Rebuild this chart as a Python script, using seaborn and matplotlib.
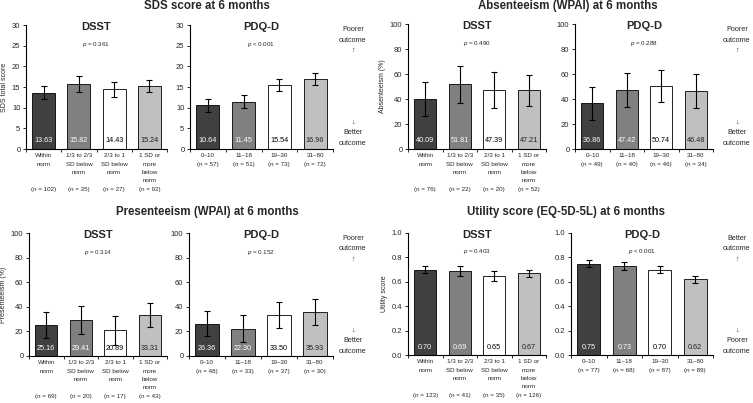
import matplotlib
matplotlib.use("Agg")
import matplotlib.pyplot as plt
import seaborn as sns
import pandas as pd
from matplotlib.ticker import FixedLocator, FormatStrFormatter

# ---------------- data ----------------
dsst_labels_sds = ["Within\nnorm\n\n\n(n = 102)", "1/3 to 2/3\nSD below\nnorm\n\n(n = 35)",
                   "2/3 to 1\nSD below\nnorm\n\n(n = 27)", "1 SD or\nmore\nbelow\nnorm\n(n = 92)"]
pdq_labels_sds = ["0\u201310\n(n = 57)", "11\u201318\n(n = 51)", "19\u201330\n(n = 73)", "31\u201380\n(n = 72)"]
sds_dsst_mean = [13.63, 15.82, 14.43, 15.24]
sds_dsst_lo = [12.0, 13.9, 12.5, 13.7]
sds_dsst_hi = [15.2, 17.7, 16.3, 16.7]
sds_pdq_mean = [10.64, 11.45, 15.54, 16.96]
sds_pdq_lo = [9.0, 9.8, 14.0, 15.5]
sds_pdq_hi = [12.2, 13.1, 17.0, 18.4]

dsst_labels_abs = ["Within\nnorm\n\n\n(n = 76)", "1/3 to 2/3\nSD below\nnorm\n\n(n = 22)",
                   "2/3 to 1\nSD below\nnorm\n\n(n = 20)", "1 SD or\nmore\nbelow\nnorm\n(n = 52)"]
pdq_labels_abs = ["0\u201310\n(n = 49)", "11\u201318\n(n = 40)", "19\u201330\n(n = 46)", "31\u201380\n(n = 34)"]
abs_dsst_mean = [40.09, 51.81, 47.39, 47.21]
abs_dsst_lo = [26.5, 37.0, 33.0, 34.5]
abs_dsst_hi = [53.5, 66.5, 61.5, 59.5]
abs_pdq_mean = [36.86, 47.42, 50.74, 46.48]
abs_pdq_lo = [23.5, 33.5, 38.0, 33.0]
abs_pdq_hi = [50.0, 61.0, 63.5, 60.0]

dsst_labels_pre = ["Within\nnorm\n\n\n(n = 69)", "1/3 to 2/3\nSD below\nnorm\n\n(n = 20)",
                   "2/3 to 1\nSD below\nnorm\n\n(n = 17)", "1 SD or\nmore\nbelow\nnorm\n(n = 43)"]
pdq_labels_pre = ["0\u201310\n(n = 48)", "11\u201318\n(n = 33)", "19\u201330\n(n = 37)", "31\u201380\n(n = 30)"]
pre_dsst_mean = [25.16, 29.41, 20.89, 33.31]
pre_dsst_lo = [14.5, 17.5, 9.0, 23.5]
pre_dsst_hi = [35.5, 41.0, 32.5, 43.0]
pre_pdq_mean = [26.36, 22.30, 33.50, 35.93]
pre_pdq_lo = [16.0, 11.5, 23.0, 25.0]
pre_pdq_hi = [36.5, 33.0, 43.5, 46.5]

dsst_labels_uti = ["Within\nnorm\n\n\n(n = 123)", "1/3 to 2/3\nSD below\nnorm\n\n(n = 41)",
                   "2/3 to 1\nSD below\nnorm\n\n(n = 35)", "1 SD or\nmore\nbelow\nnorm\n(n = 126)"]
pdq_labels_uti = ["0\u201310\n(n = 77)", "11\u201318\n(n = 68)", "19\u201330\n(n = 87)", "31\u201380\n(n = 89)"]
uti_dsst_mean = [0.70, 0.69, 0.65, 0.67]
uti_dsst_lo = [0.67, 0.65, 0.61, 0.64]
uti_dsst_hi = [0.73, 0.73, 0.69, 0.70]
uti_pdq_mean = [0.75, 0.73, 0.70, 0.62]
uti_pdq_lo = [0.72, 0.70, 0.67, 0.59]
uti_pdq_hi = [0.78, 0.76, 0.73, 0.65]

panel_titles = ["SDS score at 6 months", "Absenteeism (WPAI) at 6 months",
                "Presenteeism (WPAI) at 6 months", "Utility score (EQ-5D-5L) at 6 months"]
ylabels = ["SDS total score", "Absenteeism (%)", "Presenteeism (%)", "Utility score"]
pvals_dsst = ["= 0.361", "= 0.490", "= 0.314", "= 0.403"]
pvals_pdq = ["< 0.001", "= 0.288", "= 0.152", "< 0.001"]

bar_colors = ["#404040", "#808080", "#ffffff", "#c0c0c0"]
text_colors = ["white", "white", "black", "#222222"]

# ---------------- style ----------------
sns.set_style("ticks")
plt.rcParams["font.family"] = ["Liberation Sans", "DejaVu Sans"]
plt.rcParams["mathtext.fontset"] = "custom"
plt.rcParams["mathtext.it"] = "Liberation Sans:italic"
plt.rcParams["mathtext.rm"] = "Liberation Sans"

W, H = 753, 403
fig = plt.figure(figsize=(W / 100, H / 100), dpi=100)


def ax_at(x0, x1, ytop, ybot):
    return fig.add_axes([x0 / W, (H - ybot) / H, (x1 - x0) / W, (ybot - ytop) / H])


def draw(ax, labels, mean, lo, hi, yticks, ptxt, sub, ylabel=None):
    df = pd.DataFrame({"cat": labels, "val": mean})
    sns.barplot(data=df, x="cat", y="val", hue="cat", palette=bar_colors, legend=False,
                edgecolor="black", linewidth=0.6, width=0.65, ax=ax)
    xs = [p.get_x() + p.get_width() / 2 for p in ax.patches]
    yerr = [[m - l for m, l in zip(mean, lo)], [h - m for m, h in zip(mean, hi)]]
    ax.errorbar(xs, mean, yerr=yerr, fmt="none", ecolor="black", elinewidth=0.8,
                capsize=2.5, capthick=0.8)
    tr = ax.get_xaxis_transform()
    for x, m, c in zip(xs, mean, text_colors):
        ax.text(x, 0.065, "{:.2f}".format(m), transform=tr, ha="center", va="center",
                fontsize=5.2, color=c)
    ax.set_xlim(-0.5, 3.5)
    ax.set_ylim(yticks[0], yticks[-1])
    ax.set_yticks(yticks)
    ax.yaxis.set_major_formatter(FormatStrFormatter("%.1f" if yticks[-1] <= 1 else "%d"))
    ax.set_xticks(range(len(labels)))
    ax.set_xticklabels(labels, linespacing=1.85)
    ax.set_xlabel("")
    ax.set_ylabel(ylabel if ylabel else "", fontsize=5, labelpad=3)
    ax.tick_params(axis="y", labelsize=5.5, length=2.5, width=0.7, pad=1.5, direction="out")
    ax.tick_params(axis="x", which="major", labelsize=4.5, length=0, pad=3)
    ax.xaxis.set_minor_locator(FixedLocator([-0.5, 0.5, 1.5, 2.5, 3.5]))
    ax.tick_params(axis="x", which="minor", length=2.5, width=0.7, direction="out")
    sns.despine(ax=ax)
    for s in ("left", "bottom"):
        ax.spines[s].set_linewidth(0.8)
        ax.spines[s].set_color("black")
    ax.text(0.5, 0.985, sub, transform=ax.transAxes, ha="center", va="center",
            fontsize=8, fontweight="bold")
    ax.text(0.5, 0.845, r"$\it{p}$ " + ptxt, transform=ax.transAxes, ha="center",
            va="center", fontsize=4.5)


def side(x, ytop, ybot, top_word, bot_word):
    fig.text(x / W, 1 - ytop / H, top_word + "\noutcome\n\u2191", ha="center", va="top",
             fontsize=5.2, linespacing=1.7)
    fig.text(x / W, 1 - ybot / H, "\u2193\n" + bot_word + "\noutcome", ha="center",
             va="bottom", fontsize=5.2, linespacing=1.7)


# SDS
a = ax_at(26, 167, 25, 149)
draw(a, dsst_labels_sds, sds_dsst_mean, sds_dsst_lo, sds_dsst_hi, [0, 5, 10, 15, 20, 25, 30],
     pvals_dsst[0], "DSST", ylabels[0])
a = ax_at(190, 333, 25, 149)
draw(a, pdq_labels_sds, sds_pdq_mean, sds_pdq_lo, sds_pdq_hi, [0, 5, 10, 15, 20, 25, 30],
     pvals_pdq[0], "PDQ-D")
fig.text(207 / W, 1 - 6 / H, panel_titles[0], ha="center", va="center", fontsize=8.3, fontweight="bold")
side(353, 26, 147, "Poorer", "Better")

# Absenteeism
a = ax_at(408, 546, 24, 149)
draw(a, dsst_labels_abs, abs_dsst_mean, abs_dsst_lo, abs_dsst_hi, [0, 20, 40, 60, 80, 100],
     pvals_dsst[1], "DSST", ylabels[1])
a = ax_at(575, 713, 24, 149)
draw(a, pdq_labels_abs, abs_pdq_mean, abs_pdq_lo, abs_pdq_hi, [0, 20, 40, 60, 80, 100],
     pvals_pdq[1], "PDQ-D")
fig.text(568 / W, 1 - 6 / H, panel_titles[1], ha="center", va="center", fontsize=8.3, fontweight="bold")
side(737, 26, 147, "Poorer", "Better")

# Presenteeism
a = ax_at(29, 167, 233, 356)
draw(a, dsst_labels_pre, pre_dsst_mean, pre_dsst_lo, pre_dsst_hi, [0, 20, 40, 60, 80, 100],
     pvals_dsst[2], "DSST", ylabels[2])
a = ax_at(189, 333, 233, 356)
draw(a, pdq_labels_pre, pre_pdq_mean, pre_pdq_lo, pre_pdq_hi, [0, 20, 40, 60, 80, 100],
     pvals_pdq[2], "PDQ-D")
fig.text(207 / W, 1 - 212 / H, panel_titles[2], ha="center", va="center", fontsize=8.3, fontweight="bold")
side(353, 235, 355, "Poorer", "Better")

# Utility
a = ax_at(408, 546, 233, 355)
draw(a, dsst_labels_uti, uti_dsst_mean, uti_dsst_lo, uti_dsst_hi, [0.0, 0.2, 0.4, 0.6, 0.8, 1.0],
     pvals_dsst[3], "DSST", ylabels[3])
a = ax_at(571, 713, 233, 355)
draw(a, pdq_labels_uti, uti_pdq_mean, uti_pdq_lo, uti_pdq_hi, [0.0, 0.2, 0.4, 0.6, 0.8, 1.0],
     pvals_pdq[3], "PDQ-D")
fig.text(566 / W, 1 - 212 / H, panel_titles[3], ha="center", va="center", fontsize=8.3, fontweight="bold")
side(737, 235, 355, "Better", "Poorer")

fig.savefig("out.png", dpi=100)
